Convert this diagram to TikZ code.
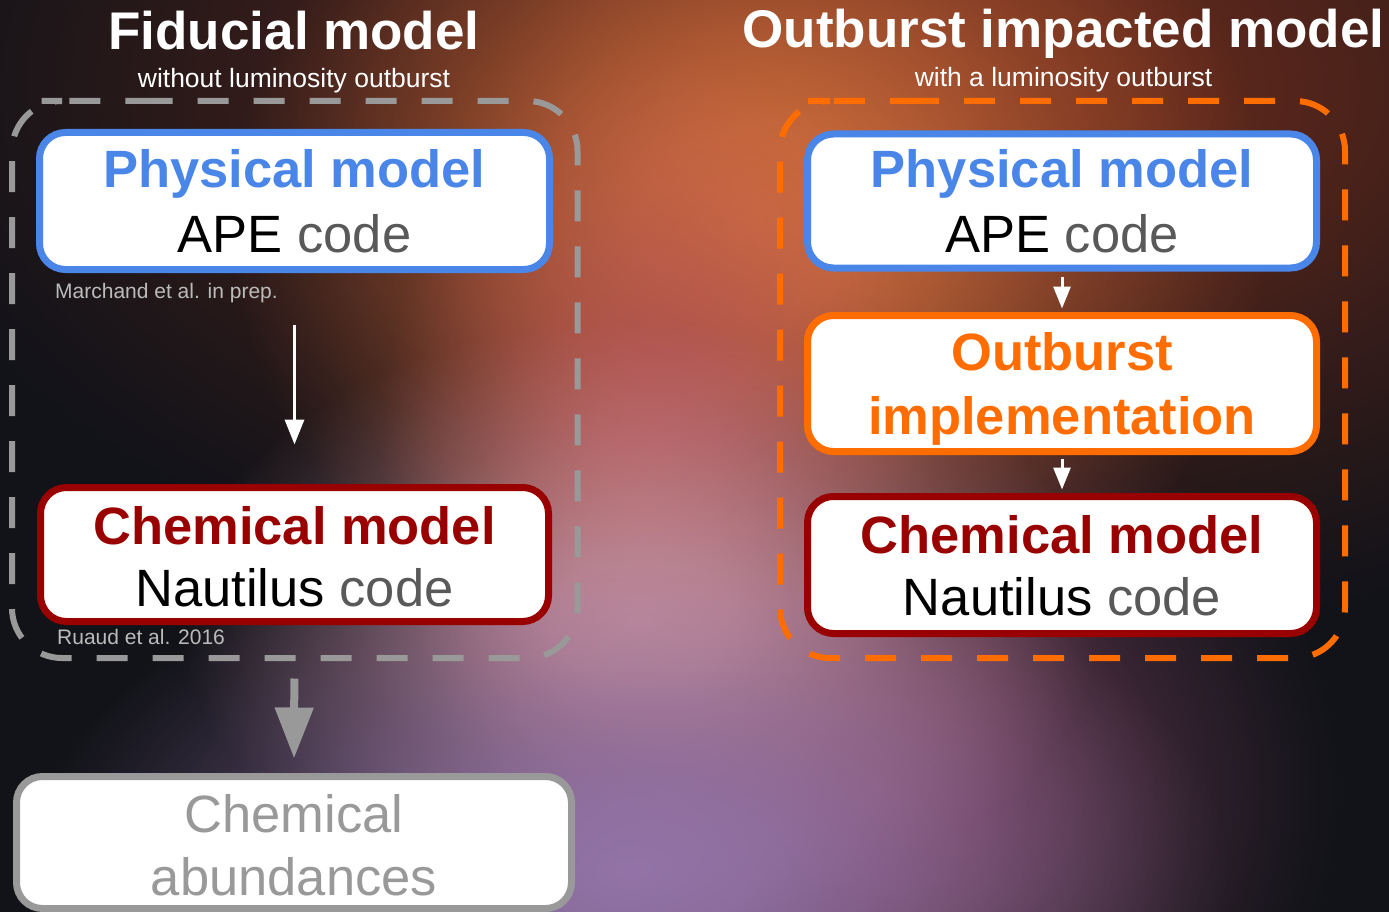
\documentclass[tikz,border=0pt]{standalone}
\usepackage{fontspec}
\setmainfont{Liberation Sans}
\usetikzlibrary{arrows.meta,fadings}
\definecolor{bgdark}{HTML}{121319}
\definecolor{physblue}{HTML}{4A86E8}
\definecolor{chemred}{HTML}{990000}
\definecolor{outorange}{HTML}{FF6D01}
\definecolor{boxgray}{HTML}{999999}
\definecolor{codegray}{HTML}{595959}
\definecolor{refgray}{HTML}{BBBBBB}
\definecolor{glowA}{HTML}{6E2C1C}
\definecolor{glowB}{HTML}{D2703E}
\definecolor{glowC}{HTML}{B35452}
\definecolor{glowD}{HTML}{C28C98}
\definecolor{glowE}{HTML}{9474A8}
\definecolor{glowF}{HTML}{74405A}
\pgfdeclareradialshading{softglow}{\pgfpointorigin}{color(0bp)=(pgftransparent!0); color(5bp)=(pgftransparent!10); color(10bp)=(pgftransparent!35); color(16bp)=(pgftransparent!66); color(22bp)=(pgftransparent!90); color(25bp)=(pgftransparent!100); color(50bp)=(pgftransparent!100)}
\pgfdeclarefading{glow}{\pgfuseshading{softglow}}
\tikzset{
  box/.style={draw, line width=7pt, rounded corners=26pt, fill=white, inner sep=0pt},
  bigtxt/.style={anchor=base, inner sep=0pt, font=\fontsize{52.5}{63}\selectfont},
  bigbold/.style={bigtxt, font=\fontsize{52.5}{63}\selectfont\bfseries},
  titletxt/.style={anchor=base, inner sep=0pt, text=white, font=\fontsize{53}{63}\selectfont\bfseries},
  subtxt/.style={anchor=base, inner sep=0pt, text=white, font=\fontsize{26.5}{32}\selectfont},
  reftxt/.style={anchor=base west, inner sep=0pt, text=refgray, font=\fontsize{21}{25}\selectfont},
  groupbox/.style={line width=6pt, rounded corners=50pt, dash pattern=on 31pt off 25pt},
  thinarrow/.style={draw=white, line width=3.5pt, -{Triangle[length=25pt, width=19pt]}},
  smallarrow/.style={draw=white, line width=3pt, -{Triangle[length=22pt, width=17pt]}},
  bigarrow/.style={draw=boxgray, line width=8pt, -{Triangle[length=51pt, width=37pt]}}
}
\begin{document}
\begin{tikzpicture}[x=1pt,y=-1pt]
\useasboundingbox (0,0) rectangle (1389,912);
\fill[bgdark] (0,0) rectangle (1389,912);
\begin{scope}
\clip (0,0) rectangle (1389,912);
\fill[glowA, path fading=glow] (920,90) ellipse (1050 and 560);
\fill[glowB, path fading=glow] (750,220) ellipse (520 and 460);
\fill[glowC, path fading=glow] (660,440) ellipse (280 and 400);
\fill[glowF, path fading=glow] (880,790) ellipse (460 and 420);
\fill[glowD, path fading=glow] (640,620) ellipse (460 and 300);
\fill[glowE, path fading=glow] (630,870) ellipse (600 and 340);
\end{scope}

% titles
\node[titletxt] (t1) at (294,50) {Fiducial model};
\node[subtxt] (s1) at (294,88) {without luminosity outburst};
\node[titletxt] (t2) at (1063.5,48) {Outburst impacted model};
\node[subtxt] (s2) at (1063.5,87) {with a luminosity outburst};

% group boxes
\draw[groupbox, draw=boxgray] (91.5,101) -| (577.5,658) -| (12,101) -- cycle;
\draw[groupbox, draw=outorange] (858,101) -| (1345,658) -| (780,101) -- cycle;

% left column
\node[box, draw=physblue, minimum width=510pt, minimum height=137pt] (p1) at (294.5,201) {};
\node[bigbold, text=physblue] (p1a) at (294.5,188) {Physical model};
\node[bigtxt] (p1b) at (294.5,252) {APE \textcolor{codegray}{code}};
\node[reftxt] (r1) at (55,298) {Marchand et al. in prep.};

\node[box, draw=chemred, minimum width=508pt, minimum height=134pt] (c1) at (294.5,554.5) {};
\node[bigbold, text=chemred] (c1a) at (294.5,544) {Chemical model};
\node[bigtxt] (c1b) at (294.5,606) {Nautilus \textcolor{codegray}{code}};
\node[reftxt] (r2) at (57,644) {Ruaud et al. 2016};

\node[box, draw=boxgray, minimum width=555pt, minimum height=132pt] (ab) at (294,842.5) {};
\node[bigtxt, text=boxgray] (ab1) at (294,832) {Chemical};
\node[bigtxt, text=boxgray] (ab2) at (294,895) {abundances};

\draw[thinarrow, shorten <=51.5pt, shorten >=39.5pt] (p1.south) -- (c1.north);
\draw[bigarrow, shorten <=53.5pt, shorten >=14.5pt] (c1.south) -- (ab.north);

% right column
\node[box, draw=physblue, minimum width=509pt, minimum height=134pt] (p2) at (1062,201) {};
\node[bigbold, text=physblue] (p2a) at (1062,188) {Physical model};
\node[bigtxt] (p2b) at (1062,252) {APE \textcolor{codegray}{code}};

\node[box, draw=outorange, minimum width=509pt, minimum height=136pt] (o2) at (1062,383.5) {};
\node[bigbold, text=outorange] (o2a) at (1062,370) {Outburst};
\node[bigbold, text=outorange] (o2b) at (1062,434) {implementation};

\node[box, draw=chemred, minimum width=509pt, minimum height=137pt] (c2) at (1062,565) {};
\node[bigbold, text=chemred] (c2a) at (1062,553) {Chemical model};
\node[bigtxt] (c2b) at (1062,615) {Nautilus \textcolor{codegray}{code}};

\draw[smallarrow, shorten <=5pt, shorten >=3.5pt] (p2.south) -- (o2.north);
\draw[smallarrow, shorten <=3.5pt, shorten >=3.5pt] (o2.south) -- (c2.north);
\end{tikzpicture}
\end{document}
